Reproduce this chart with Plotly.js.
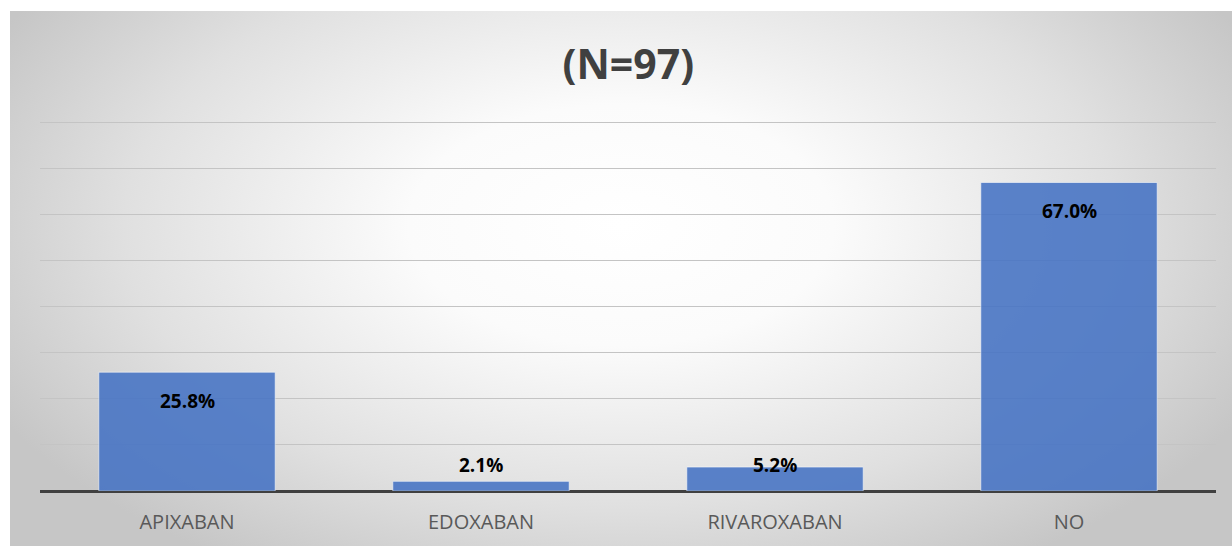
<!DOCTYPE html>
<html>
<head>
<meta charset="utf-8">
<script src="https://cdn.plot.ly/plotly-3.0.1.min.js"></script>
<style>
  html, body { margin: 0; padding: 0; background: #ffffff; width: 1232px; height: 546px; overflow: hidden; }
  #chart {
    position: absolute; left: 10px; top: 11px; width: 1222px; height: 535px;
    background: radial-gradient(ellipse 58% 75% at 50% 40%, #ffffff 0%, #fbfbfb 30%, #e0e0e0 70%, #c6c6c6 100%);
  }
</style>
</head>
<body>
<div id="chart"></div>
<script>
const categories = ["APIXABAN", "EDOXABAN", "RIVAROXABAN", "NO"];
const percentValues = [25.8, 2.1, 5.2, 67.0];
const labelTexts = ["25.8%", "2.1%", "5.2%", "67.0%"];
const chartTitle = "(N=97)";

const trace = {
  type: "bar",
  x: categories,
  y: percentValues,
  width: 0.6,
  marker: { color: "#4472C4", opacity: 0.87, line: { color: "rgba(255,255,255,0.6)", width: 1 } },
  hoverinfo: "skip",
  textposition: "none"
};

// Label placement similar to Excel's "inside end", clamped near the baseline for small bars
const annotations = categories.map((c, i) => ({
  x: c,
  y: Math.max(percentValues[i] - 6.3, 5.6),
  text: "<b>" + labelTexts[i] + "</b>",
  showarrow: false,
  xanchor: "center",
  yanchor: "middle",
  font: { family: "Open Sans, Liberation Sans, sans-serif", size: 19, color: "#000000" }
}));

const layout = {
  width: 1222,
  height: 535,
  paper_bgcolor: "rgba(0,0,0,0)",
  plot_bgcolor: "rgba(0,0,0,0)",
  margin: { l: 30, r: 16, t: 107, b: 55 },
  title: {
    text: "<b>" + chartTitle + "</b>",
    x: 0.506, xanchor: "center",
    y: 0.9, yanchor: "middle", yref: "container",
    font: { family: "Open Sans, Liberation Sans, sans-serif", size: 41, color: "#404040" }
  },
  showlegend: false,
  bargap: 0.4,
  xaxis: {
    type: "category",
    showgrid: false,
    zeroline: false,
    showline: false,
    ticks: "",
    tickfont: { family: "Open Sans, Liberation Sans, sans-serif", size: 20, color: "#595959" },
    ticklabelstandoff: 17
  },
  yaxis: {
    range: [0, 81],
    tickvals: [10, 20, 30, 40, 50, 60, 70, 80],
    showticklabels: false,
    showgrid: true,
    gridcolor: "#c4c4c4",
    gridwidth: 1,
    zeroline: true,
    zerolinecolor: "#404040",
    zerolinewidth: 3,
    showline: false,
    ticks: ""
  },
  annotations: annotations
};

Plotly.newPlot("chart", [trace], layout, { displayModeBar: false, staticPlot: true });
</script>
</body>
</html>
